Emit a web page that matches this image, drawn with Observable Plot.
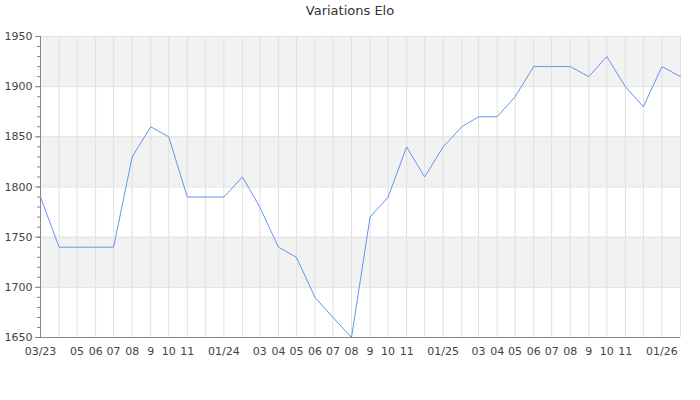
<!DOCTYPE html>
<html>
<head>
<meta charset="utf-8">
<script src="https://cdn.jsdelivr.net/npm/d3@7"></script>
<script src="https://cdn.jsdelivr.net/npm/@observablehq/plot@0.6"></script>
<style>
  html, body { margin: 0; padding: 0; background: #fff; }
  #wrap { position: relative; width: 700px; height: 400px; font-family: "DejaVu Sans", sans-serif; }
  #title { position: absolute; top: 3px; left: 0; width: 700px; text-align: center; font-size: 13px; color: #333; }
  svg { display: block; }
</style>
</head>
<body>
<div id="wrap">
  <div id="title">Variations Elo</div>
  <div id="chart"></div>
</div>
<script>
// Monthly Elo ratings
const months = [
  "2023-03","2023-04","2023-05","2023-06","2023-07","2023-08","2023-09","2023-10","2023-11","2023-12",
  "2024-01","2024-02","2024-03","2024-04","2024-05","2024-06","2024-07","2024-08","2024-09","2024-10","2024-11","2024-12",
  "2025-01","2025-02","2025-03","2025-04","2025-05","2025-06","2025-07","2025-08","2025-09","2025-10","2025-11","2025-12",
  "2026-01","2026-02"
];
const elo = [
  1790,1740,1740,1740,1740,1830,1860,1850,1790,1790,
  1790,1810,1780,1740,1730,1690,1670,1650,1770,1790,1840,1810,
  1840,1860,1870,1870,1890,1920,1920,1920,1910,1930,1900,1880,
  1920,1910
];
// Visible x tick labels
const tickMonths = [
  "2023-03","2023-05","2023-06","2023-07","2023-08","2023-09","2023-10","2023-11",
  "2024-01","2024-03","2024-04","2024-05","2024-06","2024-07","2024-08","2024-09","2024-10","2024-11",
  "2025-01","2025-03","2025-04","2025-05","2025-06","2025-07","2025-08","2025-09","2025-10","2025-11",
  "2026-01"
];
const tickLabels = [
  "03/23","05","06","07","08","9","10","11",
  "01/24","03","04","05","06","07","08","9","10","11",
  "01/25","03","04","05","06","07","08","9","10","11",
  "01/26"
];
const yMajor = [1650, 1700, 1750, 1800, 1850, 1900, 1950];
const yMinor = d3.range(1650, 1951, 10);
const bandStarts = [1700, 1800, 1900];

const parse = s => new Date(s + "-01T00:00:00Z");
const data = months.map((m, i) => ({date: parse(m), elo: elo[i]}));
const monthDates = months.map(parse);
const tickDates = tickMonths.map(parse);
const labelOf = new Map(tickDates.map((d, i) => [+d, tickLabels[i]]));
const bands = bandStarts.map(b => ({y1: b, y2: b + 50}));

const chart = Plot.plot({
  width: 700,
  height: 400,
  marginLeft: 40,
  marginRight: 20,
  marginTop: 36,
  marginBottom: 63,
  style: {fontFamily: "DejaVu Sans, sans-serif", fontSize: "11px", color: "#444", background: "#fff"},
  x: {type: "utc", domain: [monthDates[0], monthDates[monthDates.length - 1]]},
  y: {domain: [1650, 1950]},
  marks: [
    Plot.rectY(bands, {y1: "y1", y2: "y2", fill: "#f2f2f2"}),
    Plot.ruleY(yMajor, {stroke: "#e0e0e0", strokeWidth: 1}),
    Plot.ruleX(monthDates, {stroke: "#e0e0e0", strokeWidth: 1}),
    Plot.line(data, {x: "date", y: "elo", stroke: "#6495ED", strokeWidth: 1}),
    Plot.axisY(yMinor, {tickSize: 3, tickFormat: () => "", stroke: "#888", label: null}),
    Plot.axisY(yMajor, {tickSize: 5, tickPadding: 3, tickFormat: d => String(d), stroke: "#888", fill: "#444", fontSize: 11, label: null}),
    Plot.ruleX([monthDates[0]], {stroke: "#888"}),
    Plot.ruleY([1650], {stroke: "#888"}),
    Plot.axisX(tickDates, {tickSize: 0, tickPadding: 10, tickFormat: d => labelOf.get(+d), fill: "#444", fontSize: 11, label: null})
  ]
});
document.getElementById("chart").appendChild(chart);
</script>
</body>
</html>
